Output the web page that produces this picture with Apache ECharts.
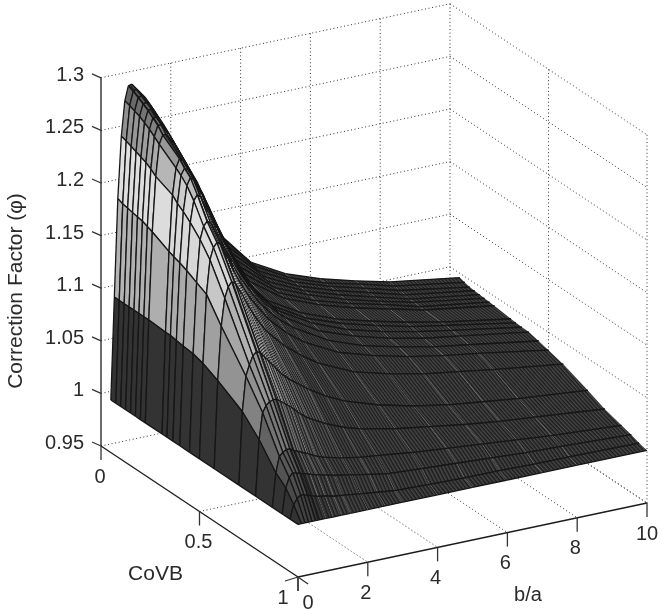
<!DOCTYPE html>
<html><head><meta charset="utf-8"><style>html,body{margin:0;padding:0;background:#fff}#c{width:662px;height:614px}</style>
<script src="https://cdn.jsdelivr.net/npm/echarts@6/dist/echarts.min.js"></script></head><body><div id="c"></div><script>
const baTicks=[0,2,4,6,8,10];
const covTicks=[0,0.5,1];
const zTicks=[0.95,1,1.05,1.1,1.15,1.2,1.25,1.3];
const zTickLabels=['0.95','1','1.05','1.1','1.15','1.2','1.25','1.3'];
const baSamples=[0,.1,.2,.3,.4,.5,.6,.8,1,1.25,1.5,2,2.5,3,4,5,6,7,8,10];
const covSamples=[.05,.075,.1,.125,.15,.175,.2,.225,.31,.335,.365,.4,.45,.5,.575,.7,.785,.87,.92,.96,1];
const phi=[
[1,1.097,1.19,1.2485,1.2815,1.295,1.296,1.288,1.28,1.266,1.252,1.22,1.188,1.14,1.103,1.085,1.073,1.064,1.056,1.046],
[1,1.097,1.188,1.247,1.28,1.293,1.294,1.286,1.276,1.261,1.247,1.215,1.181,1.137,1.102,1.084,1.072,1.064,1.055,1.0445],
[1,1.097,1.187,1.245,1.278,1.29,1.291,1.283,1.272,1.256,1.242,1.209,1.174,1.133,1.1,1.083,1.072,1.063,1.054,1.0432],
[1,1.097,1.186,1.243,1.276,1.287,1.288,1.279,1.267,1.251,1.237,1.203,1.166,1.129,1.098,1.082,1.071,1.062,1.053,1.0428],
[1,1.097,1.185,1.241,1.273,1.284,1.285,1.275,1.262,1.246,1.231,1.196,1.158,1.125,1.096,1.081,1.07,1.061,1.052,1.0423],
[1,1.097,1.184,1.239,1.27,1.28,1.28,1.27,1.257,1.241,1.225,1.188,1.15,1.121,1.094,1.08,1.069,1.06,1.052,1.0418],
[1,1.097,1.182,1.236,1.266,1.276,1.276,1.266,1.252,1.235,1.219,1.18,1.143,1.117,1.092,1.078,1.068,1.06,1.051,1.0414],
[1,1.097,1.18,1.232,1.262,1.27,1.27,1.26,1.246,1.228,1.211,1.172,1.137,1.113,1.09,1.077,1.067,1.059,1.051,1.041],
[1,1.096,1.172,1.225,1.25,1.258,1.255,1.243,1.228,1.21,1.192,1.152,1.125,1.106,1.087,1.074,1.065,1.057,1.05,1.039],
[1,1.096,1.17,1.22,1.246,1.252,1.25,1.237,1.221,1.202,1.184,1.148,1.122,1.104,1.085,1.073,1.064,1.056,1.05,1.0385],
[1,1.095,1.168,1.216,1.24,1.247,1.244,1.23,1.213,1.194,1.176,1.143,1.12,1.103,1.084,1.071,1.062,1.055,1.049,1.038],
[1,1.094,1.165,1.21,1.23,1.235,1.232,1.217,1.2,1.181,1.165,1.137,1.116,1.101,1.081,1.069,1.06,1.053,1.048,1.0378],
[1,1.093,1.16,1.2,1.212,1.216,1.214,1.2,1.185,1.168,1.153,1.128,1.11,1.097,1.078,1.066,1.058,1.051,1.046,1.0355],
[1,1.09,1.155,1.187,1.198,1.202,1.2,1.185,1.17,1.154,1.14,1.118,1.102,1.09,1.073,1.063,1.055,1.049,1.044,1.033],
[1,1.083,1.134,1.16,1.17,1.174,1.172,1.16,1.146,1.132,1.12,1.103,1.09,1.079,1.064,1.055,1.048,1.043,1.038,1.029],
[1,1.069,1.102,1.112,1.12,1.123,1.122,1.114,1.106,1.096,1.089,1.077,1.067,1.059,1.048,1.04,1.034,1.03,1.026,1.0197],
[1,1.053,1.078,1.084,1.087,1.088,1.088,1.083,1.078,1.07,1.064,1.055,1.048,1.043,1.036,1.031,1.026,1.022,1.019,1.0126],
[1,1.032,1.047,1.05,1.052,1.052,1.05,1.047,1.044,1.04,1.037,1.033,1.03,1.028,1.024,1.021,1.018,1.015,1.012,1.0076],
[1,1.024,1.033,1.037,1.036,1.035,1.034,1.032,1.03,1.028,1.026,1.023,1.02,1.017,1.015,1.013,1.011,1.009,1.008,1.005],
[1,1.013,1.018,1.021,1.02,1.019,1.018,1.016,1.015,1.013,1.012,1.01,1.008,1.006,1.005,1.004,1.004,1.003,1.003,1.002],
[1,1,1,1,1,1,1,1,1,1,1,1,1,1,1,1,1,1,1,1]
];
// orthographic view of the 3-D box onto the page plane
function project(b,c,z){return [101+34.9*b+197*c, 446-7.4*b+131*c-1052*(z-0.95)];}
const ramp=[[1,0x3c],[1.02,0x48],[1.05,0x60],[1.08,0x88],[1.14,0xb0],[1.17,0xd4],[1.22,0xe0],[1.25,0xa8],[1.27,0x88],[1.29,0x60],[1.31,0x50]];
function rampGray(z){for(let k=1;k<ramp.length;k++){if(z<=ramp[k][0]){const t=(z-ramp[k-1][0])/(ramp[k][0]-ramp[k-1][0]);return ramp[k-1][1]+t*(ramp[k][1]-ramp[k-1][1]);}}return 0x50;}
function faceGray(i,j,zm){
  if(j===0)return 0x33;
  const g=rampGray(zm),w=Math.min(1,Math.max(0,(baSamples[j]-0.6)/1.4));
  return g+(0x48-g)*w;
}
function hex(g){g=Math.round(Math.max(0,Math.min(255,g)));return 'rgb('+g+','+g+','+g+')';}
const tiles={};
function tile(g){
  const q=Math.round(g/12)*12;
  if(tiles[q])return tiles[q];
  const cv=document.createElement('canvas');cv.width=3;cv.height=1;
  const x=cv.getContext('2d');
  x.fillStyle='#1c1c1c';x.fillRect(0,0,1,1);
  x.fillStyle=hex(q);x.fillRect(1,0,1,1);
  x.fillStyle=hex((q+0x1c)/2);x.fillRect(2,0,1,1);
  return tiles[q]=cv;
}
const faces=[];
for(let i=0;i<covSamples.length-1;i++)for(let j=baSamples.length-2;j>=0;j--)faces.push([i,j]);
function renderFace(params,api){
  const i=api.value(0),j=api.value(1);
  const P=(r,k)=>api.coord(project(baSamples[k],covSamples[r],phi[r][k]));
  const a=P(i,j),b=P(i,j+1),c=P(i+1,j+1),d=P(i+1,j);
  const zm=(phi[i][j]+phi[i][j+1]+phi[i+1][j]+phi[i+1][j+1])/4;
  const g=faceGray(i,j,zm);
  let fill=hex(g);
  if(baSamples[j]>=0.5){
    const dx=(d[0]+c[0]-a[0]-b[0])/2,dy=(d[1]+c[1]-a[1]-b[1])/2,len=Math.hypot(dx,dy)||1;
    const rx=(b[0]-a[0])/(baSamples[j+1]-baSamples[j])*0.1,ry=(b[1]-a[1])/(baSamples[j+1]-baSamples[j])*0.1;
    const perp=Math.max(1.2,Math.abs(rx*dy-ry*dx)/len);
    fill={image:tile(g),repeat:'repeat',rotation:Math.atan2(dy,dx)-Math.PI/2,scaleX:perp/3,scaleY:1};
  }
  const kids=[{type:'polygon',shape:{points:[a,b,c,d]},style:{fill:fill,stroke:null},silent:true}];
  const ln={stroke:'#161616',lineWidth:1.3,fill:null};
  kids.push({type:'polyline',shape:{points:[a,b]},style:ln,silent:true});
  kids.push({type:'polyline',shape:{points:[d,c]},style:ln,silent:true});
  if(j<=5){kids.push({type:'polyline',shape:{points:[a,d]},style:ln,silent:true});kids.push({type:'polyline',shape:{points:[b,c]},style:ln,silent:true});}
  return {type:'group',children:kids};
}
// box furniture
const Z0=zTicks[0],Z1=zTicks[zTicks.length-1];
const segs=[];
function seg(A,B,kind,off){segs.push({a:A,b:B,kind:kind,off:off||[0,0]});}
baTicks.forEach(t=>{ if(t>0) seg([t,0,Z0],[t,1,Z0],'dot'); if(t>0) seg([t,0,Z0],[t,0,Z1],'dot');});
covTicks.forEach(t=>{ if(t<1) seg([0,t,Z0],[10,t,Z0],'dot'); if(t>0) seg([10,t,Z0],[10,t,Z1],'dot');});
zTicks.forEach(t=>{ if(t>Z0){seg([0,0,t],[10,0,t],'dot');} seg([10,0,t],[10,1,t],'dot');});
seg([0,0,Z0],[0,0,Z1],'axis');seg([0,0,Z0],[0,1,Z0],'axis');seg([0,1,Z0],[10,1,Z0],'axis');
zTicks.forEach(t=>seg([0,0,t],[0,0,t],'tick',[-9,-4]));
covTicks.forEach(t=>seg([0,t,Z0],[0,t,Z0],'tick',[0,14]));
baTicks.forEach(t=>seg([t,1,Z0],[t,1,Z0],'tick',[0,14]));
seg([0,1,Z0],[0,1,Z0],'tick',[-13,4]);
seg([0,1,Z0],[0,1,Z0],'tick',[10,7]);
const segIdx=segs.map((s,i)=>[i]);
function renderSeg(params,api){
  const s=segs[api.value(0)];
  const A=api.coord(project(s.a[0],s.a[1],s.a[2]));
  const B0=api.coord(project(s.b[0],s.b[1],s.b[2]));
  const B=[B0[0]+s.off[0],B0[1]+s.off[1]];
  const style=s.kind==='dot'?{stroke:'#333',lineWidth:1,lineDash:[1,2.6],fill:null}
    :s.kind==='axis'?{stroke:'#1c1c1c',lineWidth:1.3,fill:null}:{stroke:'#333',lineWidth:1.3,fill:null};
  return {type:'polyline',shape:{points:[A,B]},style:style,silent:true};
}
const texts=[];
zTicks.forEach((t,k)=>{const p=project(0,0,t);texts.push({p:[84,p[1]-2.5],s:zTickLabels[k],align:'right',size:20});});
covTicks.forEach(t=>{const p=project(0,t,Z0);texts.push({p:[p[0]+(t===1?-15:-1),p[1]+(t===1?21:31)],s:String(t),align:'center',size:20});});
baTicks.forEach(t=>{const p=project(t,1,Z0);texts.push({p:[p[0]+(t===0?10:(t===10?0:-2)),p[1]+(t===0?26:31)],s:String(t),align:'center',size:20});});
texts.push({p:[155.5,574],s:'CoVB',align:'center',size:21});
texts.push({p:[528,595],s:'b/a',align:'center',size:20});
texts.push({p:[16.5,291],s:'Correction Factor (\u03c6)',align:'center',size:21,rot:Math.PI/2});
function renderText(params,api){
  const t=texts[api.value(0)],q=api.coord(t.p);
  return {type:'text',x:q[0],y:q[1],rotation:t.rot||0,silent:true,
    style:{text:t.s,fontFamily:'Liberation Sans',fontSize:t.size,fill:'#2a2a2a',align:t.align,verticalAlign:'middle'}};
}
const chart=echarts.init(document.getElementById('c'),null,{renderer:'canvas'});
chart.setOption({animation:false,backgroundColor:'#fff',tooltip:{show:false},
  grid:{left:0,right:0,top:0,bottom:0},
  xAxis:{type:'value',min:0,max:662,show:false},
  yAxis:{type:'value',min:0,max:614,inverse:true,show:false},
  series:[
    {type:'custom',name:'box',coordinateSystem:'cartesian2d',clip:false,data:segIdx,renderItem:renderSeg,encode:{x:0,y:0},z:1},
    {type:'custom',name:'Correction Factor',coordinateSystem:'cartesian2d',clip:false,data:faces,renderItem:renderFace,encode:{x:0,y:1},z:2},
    {type:'custom',name:'labels',coordinateSystem:'cartesian2d',clip:false,data:texts.map((t,i)=>[i]),renderItem:renderText,encode:{x:0,y:0},z:3}
  ]});
</script></body></html>
